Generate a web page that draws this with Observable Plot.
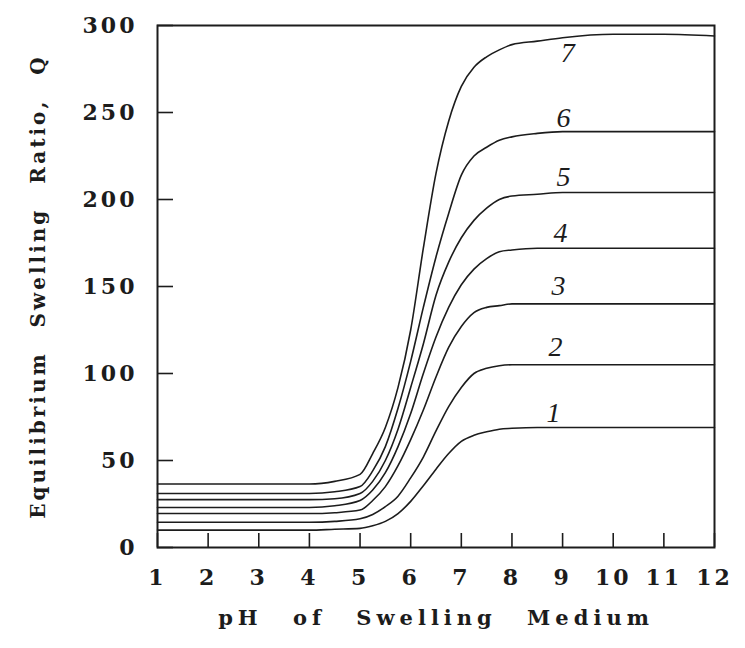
<!DOCTYPE html>
<html><head><meta charset="utf-8">
<script src="https://cdn.jsdelivr.net/npm/d3@7"></script>
<script src="https://cdn.jsdelivr.net/npm/@observablehq/plot@0.6"></script>
<style>
body{margin:0;background:#fff;}
#chart svg{display:block;}
</style></head><body><div id="chart"></div>
<script>
// pH grid (x) and equilibrium swelling ratio Q for curves 1..7
const ph = [1, 2, 3, 4, 4.5, 5, 5.25, 5.5, 5.75, 6, 6.25, 6.5, 6.75, 7, 7.25, 7.5, 7.75, 8, 8.5, 9, 10, 11, 12];
const q1 = [10, 10, 10, 10, 10.5, 11, 12.5, 15, 19.5, 26.5, 35.5, 45, 54, 61, 64.5, 66.5, 68, 68.5, 69, 69, 69, 69, 69];
const q2 = [14.5, 14.5, 14.5, 14.5, 15, 16.5, 19, 23.5, 29.5, 40, 52, 67, 81, 92, 100, 103, 104.5, 105, 105, 105, 105, 105, 105];
const q3 = [19.5, 19.5, 19.5, 19.5, 20, 21.5, 27, 35, 47, 62, 79, 98, 115, 127, 135, 138, 139, 140, 140, 140, 140, 140, 140];
const q4 = [23, 23, 23, 23, 24, 27, 33, 43, 58, 77, 100, 121, 138, 151, 160, 166, 170, 171, 172, 172, 172, 172, 172];
const q5 = [27.5, 27.5, 27.5, 27.5, 28, 31, 38, 50, 68, 92, 117, 145, 164, 178, 188, 195, 200, 202, 203, 204, 204, 204, 204];
const q6 = [31, 31, 31, 31, 32, 35, 44, 58, 80, 107, 138, 167, 192, 214, 225, 230, 234, 236, 238, 239, 239, 239, 239];
const q7 = [36.5, 36.5, 36.5, 36.5, 38, 42, 54, 69, 92, 125, 172, 215, 245, 265, 276, 282, 286, 289, 291, 293, 295, 295, 294];
const series = [q1, q2, q3, q4, q5, q6, q7];
const curveNames = ["1", "2", "3", "4", "5", "6", "7"];
const labelPH = [8.82, 8.86, 8.92, 8.96, 9.02, 9.02, 9.1];
const labelQ = [77.5, 115, 150.5, 181, 213, 247, 284];
const xTicks = [1, 2, 3, 4, 5, 6, 7, 8, 9, 10, 11, 12];
const yTicks = [0, 50, 100, 150, 200, 250, 300];
const xLabel = "pH of Swelling Medium";
const yLabel = "Equilibrium Swelling Ratio, Q";

const rows = series.flatMap((qs, i) => qs.map((q, j) => ({ph: ph[j], q, curve: curveNames[i]})));
const labels = curveNames.map((n, i) => ({n, x: labelPH[i], y: labelQ[i]}));

const ink = "#1c1c1c";
const tickFont = {fontFamily: "DejaVu Serif", fontWeight: "bold", fontSize: 22};

const chart = Plot.plot({
  width: 745, height: 648,
  marginLeft: 157, marginRight: 31, marginTop: 25, marginBottom: 101,
  x: {type: "linear", domain: [1, 12]},
  y: {type: "linear", domain: [0, 300]},
  style: {background: "#fff", color: ink, fontFamily: "DejaVu Serif"},
  marks: [
    Plot.line(rows, {x: "ph", y: "q", z: "curve", stroke: ink, strokeWidth: 1.6, curve: "monotone-x"}),
    Plot.frame({stroke: ink, strokeWidth: 2}),
    Plot.axisX(xTicks, {tickSize: -14, tickPadding: 36, label: null, stroke: ink, strokeWidth: 1.6, ...tickFont, fill: ink}),
    Plot.axisY(yTicks, {tickSize: -16, tickPadding: 36, label: null, stroke: ink, strokeWidth: 1.6, ...tickFont, fill: ink}),
    Plot.text(labels, {x: "x", y: "y", text: "n", fontFamily: "Liberation Serif", fontStyle: "italic", fontSize: 28, fill: ink}),
    Plot.text([xLabel], {frameAnchor: "bottom", dy: 77, text: d => d, textAnchor: "middle", fontFamily: "DejaVu Serif", fontWeight: "bold", fontSize: 21, fill: ink}),
    Plot.text([yLabel], {frameAnchor: "left", dx: -119, rotate: -90, text: d => d, textAnchor: "middle", fontFamily: "DejaVu Serif", fontWeight: "bold", fontSize: 20, fill: ink})
  ]
});
chart.querySelectorAll("text").forEach(t => {
  const s = t.textContent;
  if (s === xLabel) { t.style.letterSpacing = "5px"; t.style.wordSpacing = "18px"; }
  if (s === yLabel) { t.style.letterSpacing = "3px"; t.style.wordSpacing = "14px"; }
  if (/^\d+$/.test(s) && t.closest("g[aria-label^='y-axis'], g[aria-label^='x-axis']")) t.style.letterSpacing = "3px";
});
document.getElementById("chart").appendChild(chart);
</script>
</body></html>
